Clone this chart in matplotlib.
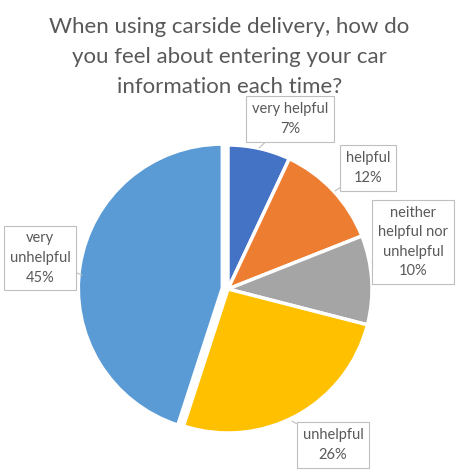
import matplotlib
matplotlib.use("Agg")
import matplotlib.pyplot as plt

# Data
labels = ["very helpful", "helpful", "neither\nhelpful nor\nunhelpful", "unhelpful", "very\nunhelpful"]
values = [7, 12, 10, 26, 45]
colors = ["#4472C4", "#ED7D31", "#A5A5A5", "#FFC000", "#5B9BD5"]
explode = [0, 0, 0, 0, 0.04]

# label box centres and leader-line tips, in pixels from the top-left corner
label_pos = [(290, 119), (368, 168), (413, 242), (333, 445), (40, 258)]
tip_pos = [(259, 148), (335, 191), (372, 262), (292, 421), (82, 275)]

title = "When using carside delivery, how do\nyou feel about entering your car\ninformation each time?"

W, H = 459, 474
cx, cy, r = 228, 289, 144

plt.rcParams['font.family'] = ['Lato', 'DejaVu Sans']

fig = plt.figure(figsize=(W / 100, H / 100), dpi=100)
ax = fig.add_axes([(cx - r) / W, (H - cy - r) / H, 2 * r / W, 2 * r / H])

wedges, _ = ax.pie(values, colors=colors, startangle=90, counterclock=False,
                   explode=explode, radius=1,
                   wedgeprops=dict(edgecolor="white", linewidth=2.5))
ax.set_xlim(-1, 1)
ax.set_ylim(-1, 1)
ax.set_aspect("auto")


def to_data(px, py):
    return (px - cx) / r, (cy - py) / r


# Callout labels
for lab, v, (lx, ly), (tx, ty) in zip(labels, values, label_pos, tip_pos):
    ax.annotate(f"{lab}\n{v}%", xy=to_data(tx, ty), xytext=to_data(lx, ly),
                ha="center", va="center", fontsize=10.5, color="#595959",
                linespacing=1.5, annotation_clip=False,
                bbox=dict(boxstyle="square,pad=0.4", fc="white", ec="#BFBFBF", lw=0.8),
                arrowprops=dict(arrowstyle="-", color="#BFBFBF", lw=0.8,
                                shrinkA=0, shrinkB=0))

fig.text(0.5, 1 - 57 / H, title, ha="center", va="center", fontsize=16,
         color="#595959", linespacing=1.6)

fig.savefig("out.png", dpi=100)
